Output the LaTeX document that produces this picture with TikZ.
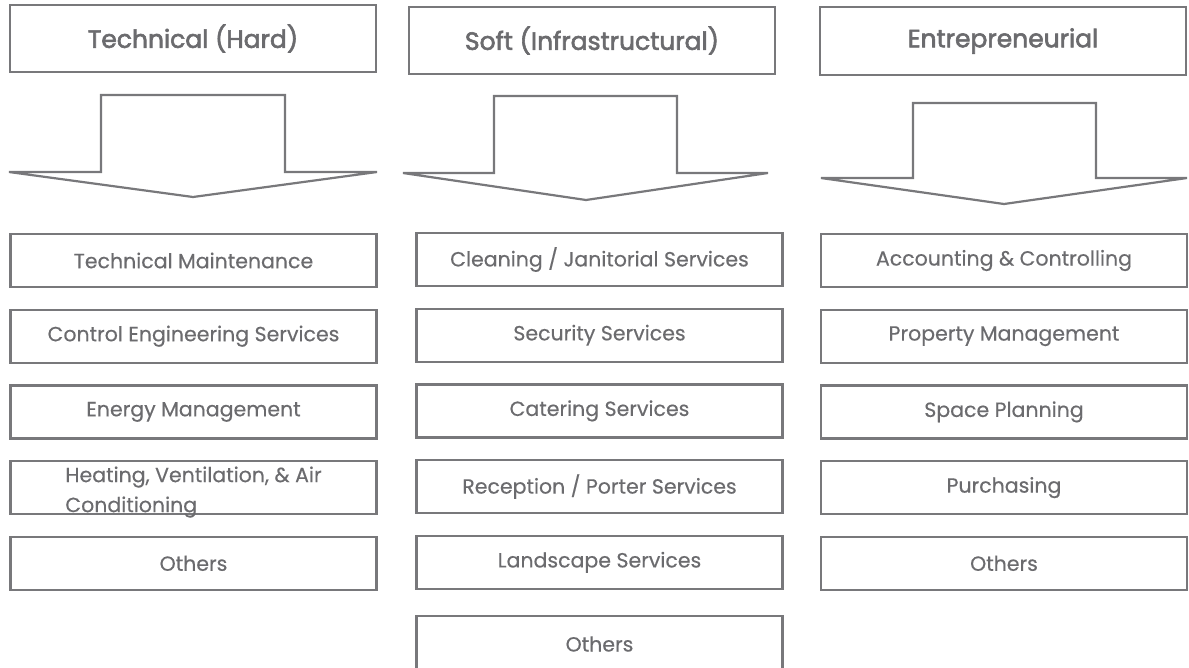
\documentclass[tikz,border=0pt]{standalone}
\usepackage{fontspec}
\setmainfont[FakeBold=0.4]{Poppins}
\newfontfamily\headfont[FakeBold=2.4]{Poppins}
\usetikzlibrary{positioning}
\definecolor{frame}{HTML}{78787B}
\definecolor{ink}{HTML}{6B6B6E}
\tikzset{
  hbox/.style={draw=frame, line width=2.2pt, minimum width=366pt, minimum height=67.5pt, text=ink, font=\headfont\fontsize{25}{30}\selectfont},
  ibox/.style={draw=frame, line width=2.2pt, minimum width=366pt, minimum height=53pt, inner sep=0pt, text=ink, font=\fontsize{20.5}{30}\selectfont},
  aline/.style={draw=frame, line width=2.2pt, line join=miter}
}
\begin{document}
\begin{tikzpicture}[x=1pt, y=-1pt, node distance=20.5pt]
  \useasboundingbox (0,0) rectangle (1189,667);

  % column heads
  \node[hbox] (hard) at (193,38.5) {Technical (Hard)};
  \node[hbox] (soft) at (592,40.5) {Soft (Infrastructural)};
  \node[hbox] (entr) at (1003,41) {Entrepreneurial};

  % block arrows
  \draw[aline] (101,172) -- (101,95) -- (285,95) -- (285,172) -- (377,172) -- (193,197) -- (9,172) -- cycle;
  \draw[aline] (494,173) -- (494,96) -- (677,96) -- (677,173) -- (768,173) -- (586,200) -- (403,173) -- cycle;
  \draw[aline] (913,178) -- (913,103) -- (1096,103) -- (1096,178) -- (1187,178) -- (1004,204) -- (821,178) -- cycle;

  % technical services
  \node[ibox] (h1) at (193.5,260.5) {Technical Maintenance};
  \node[ibox, below=of h1] (h2) {Control Engineering Services};
  \node[ibox, below=of h2] (h3) {Energy Management};
  \node[ibox, below=of h3, align=left, text height=49pt, text depth=0pt] (h4) {Heating, Ventilation, \& Air\\Conditioning};
  \node[ibox, below=of h4] (h5) {Others};

  % soft services
  \node[ibox] (s1) at (599.5,259.5) {Cleaning / Janitorial Services};
  \node[ibox, below=of s1] (s2) {Security Services};
  \node[ibox, below=of s2] (s3) {Catering Services};
  \node[ibox, below=of s3] (s4) {Reception / Porter Services};
  \node[ibox, below=of s4] (s5) {Landscape Services};
  \node[ibox, below=25pt of s5, minimum height=56pt] (s6) {Others};

  % entrepreneurial services
  \node[ibox] (e1) at (1004,260.5) {Accounting \& Controlling};
  \node[ibox, below=of e1] (e2) {Property Management};
  \node[ibox, below=of e2] (e3) {Space Planning};
  \node[ibox, below=of e3] (e4) {Purchasing};
  \node[ibox, below=of e4] (e5) {Others};
\end{tikzpicture}
\end{document}
